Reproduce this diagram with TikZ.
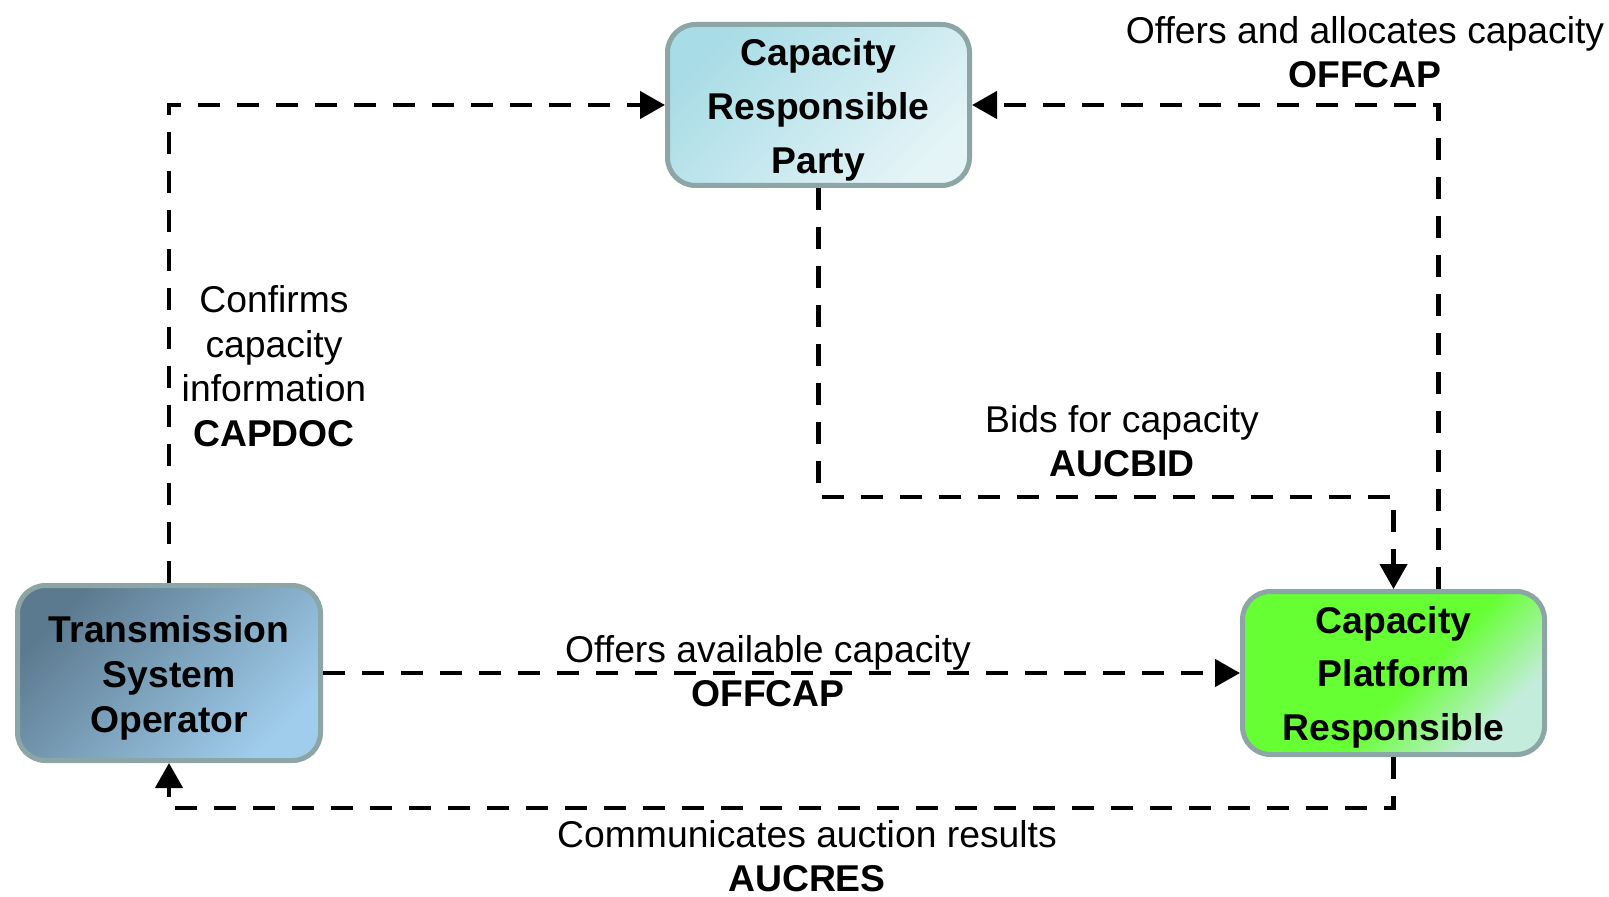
\documentclass[tikz,border=0pt]{standalone}
\usepackage{fontspec}
\setmainfont{Liberation Sans}
\usetikzlibrary{arrows.meta,calc}
\definecolor{bordergray}{RGB}{140,165,165}
\definecolor{crpA}{RGB}{168,220,230}
\definecolor{crpB}{RGB}{228,244,247}
\definecolor{tsoA}{RGB}{92,122,143}
\definecolor{tsoB}{RGB}{160,205,236}
\definecolor{cprA}{RGB}{102,255,51}
\definecolor{cprB}{RGB}{196,236,220}
\pgfdeclareverticalshading{cprshade}{100bp}{color(0bp)=(cprB); color(27bp)=(cprB); color(46bp)=(cprA); color(100bp)=(cprA)}
\newcommand{\toppad}{\rule{0pt}{18.4pt}}
\tikzset{
  actor/.style={draw=bordergray, line width=2.5pt, rounded corners=14pt, align=center,
    font=\bfseries\fontsize{18.65pt}{26.8pt}\selectfont, inner sep=0pt},
  flow/.style={line width=2.25pt, dash pattern=on 11pt off 8.5pt},
  arrowed/.style={-{Triangle[length=12.5pt,width=13.5pt]}},
  lbl/.style={align=center, font=\fontsize{18.65pt}{22.3pt}\selectfont, inner sep=0pt}
}
\begin{document}
\begin{tikzpicture}[x=0.5pt,y=-0.5pt]
\useasboundingbox (0,0) rectangle (1609,897);
\node[actor, top color=crpA, bottom color=crpB, shading angle=45, minimum width=151pt, minimum height=80.5pt] (crp) at (818.5,105) {\toppad Capacity\\Responsible\\Party};
\node[actor, top color=tsoA, bottom color=tsoB, shading angle=45, minimum width=151.5pt, minimum height=87.5pt, font=\bfseries\fontsize{18.65pt}{22.5pt}\selectfont] (tso) at (169,673) {\toppad Transmission\\System\\Operator};
\node[actor, shade, shading=cprshade, shading angle=45, minimum width=151pt, minimum height=81.5pt] (cpr) at (1393.5,673) {\rule{0pt}{17.6pt}Capacity\\Platform\\Responsible};

\draw[flow, arrowed] (tso.north) |- (crp.west);
\coordinate (bidturn) at (818.5,497);
\draw[flow, arrowed] (crp.south) -- (bidturn) -| (cpr.north);
\draw[flow, arrowed] ($(cpr.north)+(45,0)$) |- (crp.east);
\draw[flow, arrowed] (tso.east) -- (cpr.west);
\draw[flow, arrowed] (cpr.south) -- ++(0,51) -| (tso.south);

\node[lbl] (l1) at (1365,52) {Offers and allocates capacity\\\textbf{OFFCAP}};
\node[lbl] (l2) at (274,366) {Confirms\\capacity\\information\\\textbf{CAPDOC}};
\node[lbl] (l3) at (1122,441) {Bids for capacity\\\textbf{AUCBID}};
\node[lbl] (l4) at (768,671) {Offers available capacity\\\textbf{OFFCAP}};
\node[lbl] (l5) at (807,856) {Communicates auction results\\\textbf{AUCRES}};
\end{tikzpicture}
\end{document}
